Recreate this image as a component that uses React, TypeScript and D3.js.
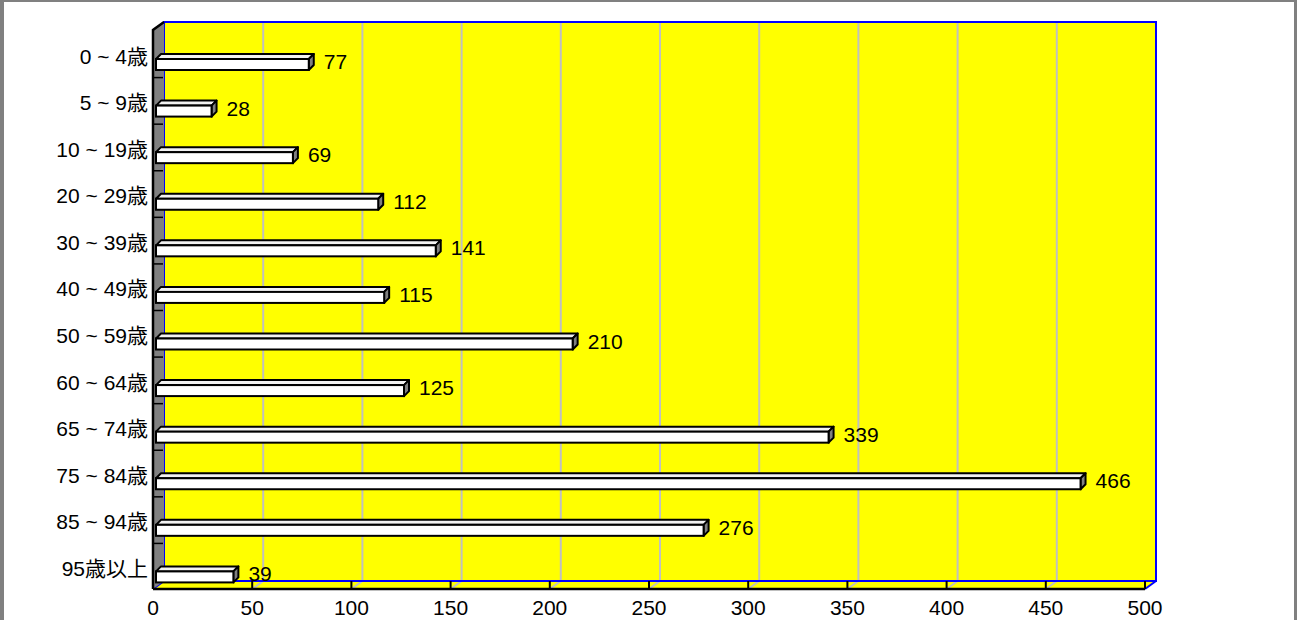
import React from 'react';
import * as d3 from 'd3';

const categories = ['0 ~ 4歳', '5 ~ 9歳', '10 ~ 19歳', '20 ~ 29歳', '30 ~ 39歳', '40 ~ 49歳', '50 ~ 59歳', '60 ~ 64歳', '65 ~ 74歳', '75 ~ 84歳', '85 ~ 94歳', '95歳以上'];
const values = [77, 28, 69, 112, 141, 115, 210, 125, 339, 466, 276, 39];
const xTicks = [0, 50, 100, 150, 200, 250, 300, 350, 400, 450, 500];

const W = 1297;
const H = 620;
const X0 = 153;
const X1 = 1145;
const Y0 = 30;
const Y1 = 589;
const DX = 11;
const DY = -8;
const FONT = '"Liberation Sans", Arial, "Noto Sans CJK JP", sans-serif';

export default function App() {
  const x = d3.scaleLinear().domain([0, 500]).range([X0, X1]);
  const y = d3.scaleBand<string>().domain(categories).range([Y0, Y1]).paddingInner(0).paddingOuter(0);
  const bw = y.bandwidth();
  const barOff = 29;
  const barH = 11;
  const bdx = 5;
  const bdy = -5;
  const barX0 = X0 + 3;

  const pts = (arr: [number, number][]) => arr.map((p) => p.join(',')).join(' ');

  return (
    <svg width={W} height={H} style={{ position: 'absolute', left: 0, top: 0, background: '#fff' }} fontFamily={FONT}>
      {/* outer frame */}
      <rect x={0} y={0} width={4} height={H} fill="#808080" />
      <rect x={0} y={0} width={W} height={2} fill="#808080" />
      <rect x={1294} y={0} width={3} height={H} fill="#808080" />

      {/* back wall */}
      <rect x={X0 + DX} y={Y0 + DY} width={X1 - X0} height={Y1 - Y0} fill="#ffff00" />
      {/* floor */}
      <polygon points={pts([[X0, Y1], [X1, Y1], [X1 + DX, Y1 + DY], [X0 + DX, Y1 + DY]])} fill="#ffff00" />

      {/* grid lines */}
      {xTicks.slice(1, -1).map((t) => (
        <g key={'g' + t}>
          <line x1={x(t) + DX} x2={x(t) + DX} y1={Y0 + DY} y2={Y1 + DY} stroke="#c0c0c0" strokeWidth={2} />
          <line x1={x(t)} x2={x(t) + DX} y1={Y1} y2={Y1 + DY} stroke="#c0c0c0" strokeWidth={2} />
        </g>
      ))}

      {/* back wall border */}
      <rect x={X0 + DX} y={Y0 + DY} width={X1 - X0} height={Y1 - Y0} fill="none" stroke="#0000ff" strokeWidth={2} />
      {/* floor side edges */}
      <line x1={X0} y1={Y1} x2={X0 + DX} y2={Y1 + DY} stroke="#0000ff" strokeWidth={2} />
      <line x1={X1} y1={Y1} x2={X1 + DX} y2={Y1 + DY} stroke="#0000ff" strokeWidth={2} />

      {/* left wall */}
      <polygon points={pts([[X0, Y0], [X0 + DX, Y0 + DY], [X0 + DX, Y1 + DY], [X0, Y1]])} fill="#808080" />
      <polyline points={pts([[X0, Y1], [X0, Y0], [X0 + DX, Y0 + DY]])} fill="none" stroke="#000" strokeWidth={2.5} />
      {categories.slice(1).map((c) => (
        <line key={'ct' + c} x1={X0} x2={X0 + DX - 1} y1={(y(c) as number) + 1} y2={(y(c) as number) + 1} stroke="#000" strokeWidth={1.5} />
      ))}

      {/* x axis */}
      <line x1={X0} x2={X1} y1={Y1} y2={Y1} stroke="#000" strokeWidth={2.5} />
      {xTicks.map((t) => (
        <g key={'t' + t}>
          <line x1={x(t)} x2={x(t)} y1={Y1 + DY} y2={Y1} stroke="#000" strokeWidth={2} />
          <text x={x(t)} y={615} fontSize={21} textAnchor="middle" fill="#000">{t}</text>
        </g>
      ))}

      {/* bars */}
      {categories.map((c, i) => {
        const v = values[i];
        const top = (y(c) as number) + barOff;
        const bot = top + barH;
        const xe = barX0 + (x(v) - X0);
        return (
          <g key={'b' + c}>
            <polygon points={pts([[barX0, top], [barX0 + bdx, top + bdy], [xe + bdx, top + bdy], [xe, top]])} fill="#f2f2f2" stroke="#000" strokeWidth={2} strokeLinejoin="round" />
            <polygon points={pts([[xe, top], [xe + bdx, top + bdy], [xe + bdx, bot + bdy], [xe, bot]])} fill="#808080" stroke="#000" strokeWidth={2} strokeLinejoin="round" />
            <rect x={barX0} y={top} width={xe - barX0} height={barH} fill="#ffffff" stroke="#000" strokeWidth={2} />
            <text x={xe + bdx + 10} y={top + 10} fontSize={21} fill="#000">{v}</text>
            <text x={148} y={top + 4.5} fontSize={21} textAnchor="end" fill="#000">{c}</text>
          </g>
        );
      })}
      {void bw}
    </svg>
  );
}
